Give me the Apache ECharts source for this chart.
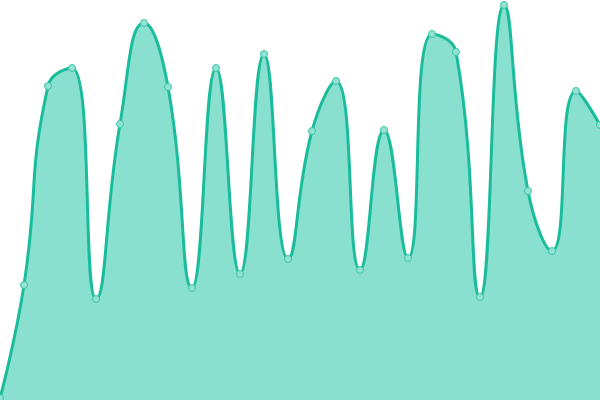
<!DOCTYPE html>
<html>
<head>
<meta charset="utf-8">
<script src="https://cdn.jsdelivr.net/npm/echarts@6/dist/echarts.min.js"></script>
<style>html,body{margin:0;padding:0;background:#fff}#c{width:600px;height:400px}</style>
</head>
<body>
<div id="c"></div>
<script>
const categories = ['1','2','3','4','5','6','7','8','9','10','11','12','13','14','15','16','17','18','19','20','21','22','23','24','25','26'];
const values = [2,115,314,332,101,276,377,313,112,332,126,346,141,269,319,130,270,142,366,348,103,395,209,149,309,275];

const chart = echarts.init(document.getElementById('c'), null, {renderer: 'canvas'});
chart.setOption({
  animation: false,
  grid: {left: 0, right: 0, top: 0, bottom: 0},
  xAxis: {type: 'category', data: categories, boundaryGap: false, show: false},
  yAxis: {type: 'value', min: 0, max: 400, show: false},
  series: [{
    type: 'line',
    data: values,
    smooth: true,
    symbol: 'circle',
    symbolSize: 7,
    itemStyle: {color: '#93e2d2', borderColor: '#3cc4a6', borderWidth: 1},
    lineStyle: {color: '#1abc9c', width: 3},
    areaStyle: {color: '#8ae0cf', opacity: 1}
  }]
});
</script>
</body>
</html>
